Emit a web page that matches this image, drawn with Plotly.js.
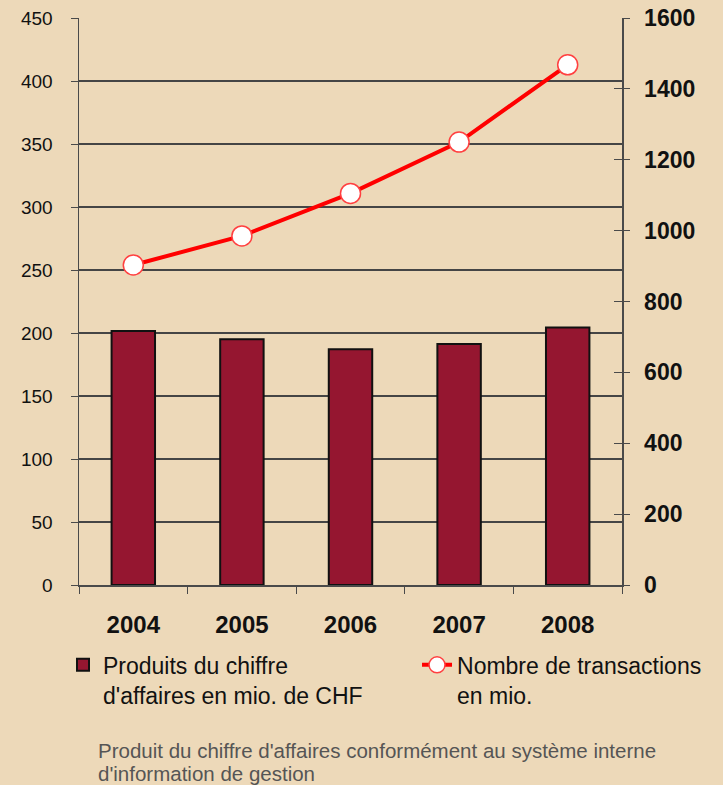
<!DOCTYPE html>
<html>
<head>
<meta charset="utf-8">
<script src="https://cdn.plot.ly/plotly-3.0.1.min.js"></script>
<style>html,body{margin:0;padding:0;background:#EDD9B9;}</style>
</head>
<body>
<div id="chart" style="width:723px;height:785px;"></div>
<script>
var years = ["2004", "2005", "2006", "2007", "2008"];
var revenue = [201.5, 195.1, 187.2, 191.2, 204.4];
var transactions = [903, 985, 1105, 1250, 1468];
var leftTicks = [0, 50, 100, 150, 200, 250, 300, 350, 400, 450];
var rightTicks = [0, 200, 400, 600, 800, 1000, 1200, 1400, 1600];
var barName = "Produits du chiffre<br>d'affaires en mio. de CHF";
var lineName = "Nombre de transactions<br>en mio.";
var footnoteLines = ["Produit du chiffre d'affaires conformément au système interne", "d'information de gestion"];

var FONT = "Liberation Sans, Arial, sans-serif";
var AX = "#4a4a4a";

var traces = [
  {
    type: "bar", x: years, y: revenue, name: barName, width: 0.4,
    marker: {color: "#951630", line: {color: "#111", width: 2}},
    yaxis: "y", legend: "legend"
  },
  {
    type: "scatter", mode: "lines+markers", x: years, y: transactions, name: lineName,
    line: {color: "#FF0000", width: 4},
    marker: {color: "#FFFFFF", size: 20, line: {color: "#FF4040", width: 1.5}},
    yaxis: "y2", legend: "legend2"
  },
  {type: "scatter", x: years, y: transactions, yaxis: "y3", showlegend: false, mode: "none"}
];

var legendCommon = {
  orientation: "v", xanchor: "left", y: -0.103, yanchor: "top",
  bgcolor: "rgba(0,0,0,0)", font: {size: 23, family: FONT, color: "#111"}, valign: "top"
};

var layout = {
  width: 723, height: 785,
  margin: {l: 79, r: 101, t: 18, b: 200},
  paper_bgcolor: "#EDD9B9", plot_bgcolor: "#EDD9B9",
  font: {family: FONT, color: "#111"},
  showlegend: true,
  xaxis: {
    type: "category", tickson: "boundaries", ticks: "outside", ticklen: 7, tickcolor: AX,
    showline: true, linecolor: AX, linewidth: 1.5, showgrid: false,
    tickfont: {size: 24, family: FONT, weight: "bold", color: "#111"},
    ticklabelstandoff: 18
  },
  yaxis: {
    range: [0, 450], tickvals: leftTicks, ticktext: leftTicks.map(String),
    ticks: "outside", ticklen: 7, tickcolor: AX, showline: true, linecolor: AX, linewidth: 1.5,
    showgrid: true, gridcolor: "#454545", gridwidth: 1.2, zeroline: false,
    tickfont: {size: 19, family: FONT, color: "#111"}, ticklabelstandoff: 14
  },
  yaxis2: {
    range: [0, 1600], tickvals: rightTicks, ticktext: rightTicks.map(String),
    overlaying: "y", side: "right", ticks: "outside", ticklen: 6, tickcolor: AX,
    showline: true, linecolor: AX, linewidth: 1.5, showgrid: false, zeroline: false,
    tickfont: {size: 23, family: FONT, weight: "bold", color: "#111"}, ticklabelstandoff: 10
  },
  yaxis3: {
    range: [0, 1600], tickvals: rightTicks, overlaying: "y", side: "right",
    ticks: "inside", ticklen: 8, tickcolor: AX, showticklabels: false,
    showline: false, showgrid: false, zeroline: false
  },
  legend: Object.assign({}, legendCommon, {x: -0.0295}),
  legend2: Object.assign({}, legendCommon, {x: 0.6225}),
  annotations: footnoteLines.map(function (t, i) {
    return {
      xref: "paper", yref: "paper", x: 0.031, y: -0.268 - i * 0.041,
      xanchor: "left", yanchor: "top", align: "left", showarrow: false, text: t,
      font: {size: 20.5, family: FONT, color: "#555"}
    };
  })
};

Plotly.newPlot("chart", traces, layout, {displayModeBar: false, staticPlot: true});
</script>
</body>
</html>
